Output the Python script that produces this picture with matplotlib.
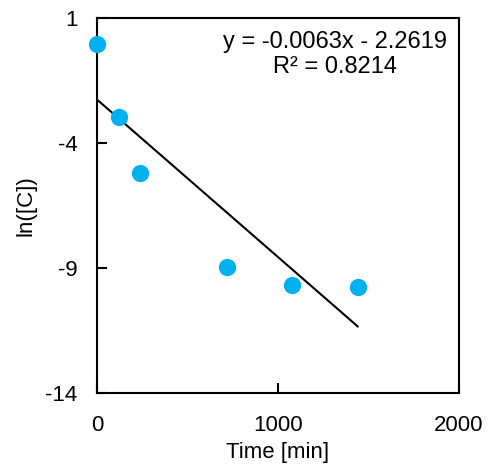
import numpy as np
import matplotlib
matplotlib.use('Agg')
import matplotlib.pyplot as plt

plt.rcParams['font.family'] = ['Liberation Sans', 'DejaVu Sans']
plt.rcParams['axes.unicode_minus'] = False

# data
time_min = [0, 120, 240, 720, 1080, 1440]
ln_c = [-0.05, -2.95, -5.2, -8.95, -9.68, -9.75]
slope = -0.0063
intercept = -2.2619
r2 = 0.8214

xticks = [0, 1000, 2000]
yticks = [1, -4, -9, -14]

fig = plt.figure(figsize=(4.91, 4.72), dpi=100)
ax = fig.add_axes([97/491, 79/472, 362/491, 375/472])

ax.scatter(time_min, ln_c, s=155, color='#00B0F0', zorder=3, linewidths=0, clip_on=False)
xfit = np.array([time_min[0], time_min[-1]])
ax.plot(xfit, slope*xfit + intercept, color='black', lw=1.5, zorder=2)

ax.set_xlim(0, 2000)
ax.set_ylim(-14, 1)
ax.set_xticks(xticks)
ax.set_yticks(yticks)
ax.tick_params(direction='in', length=7, width=1.5, labelsize=16)
ax.tick_params(axis='y', pad=14)
ax.tick_params(axis='x', pad=16)
for s in ax.spines.values():
    s.set_linewidth(1.5)

ax.set_xlabel('Time [min]', fontsize=16, labelpad=4)
ax.set_ylabel('ln([C])', fontsize=16, labelpad=6)

ax.text(0.657, 0.965, 'y = -0.0063x - 2.2619\nR² = %.4f' % r2,
        transform=ax.transAxes, ha='center', va='top',
        multialignment='center', fontsize=17, linespacing=1.15)

fig.savefig('out.png', dpi=100)
